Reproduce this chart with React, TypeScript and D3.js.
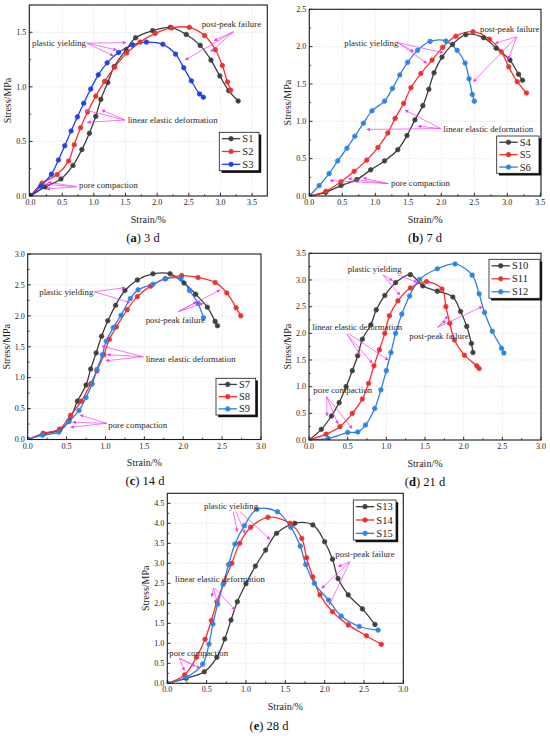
import React from "react";
import * as d3 from "d3";

type Pt = [number, number];

// ---------- (a) 3 d ----------
const S1: Pt[] = [[0,0],[0.23,0.083],[0.48,0.156],[0.67,0.28],[0.81,0.425],[0.93,0.575],[1.03,0.73],[1.11,0.885],[1.22,1.04],[1.32,1.185],[1.51,1.34],[1.66,1.45],[1.93,1.515],[2.21,1.545],[2.46,1.48],[2.68,1.38],[2.85,1.245],[2.99,1.10],[3.13,0.965],[3.28,0.87]];
const S2: Pt[] = [[0,0],[0.18,0.116],[0.42,0.196],[0.6,0.32],[0.69,0.47],[0.79,0.625],[0.9,0.77],[1.03,0.915],[1.17,1.05],[1.33,1.18],[1.52,1.31],[1.73,1.41],[1.97,1.49],[2.23,1.54],[2.51,1.545],[2.75,1.47],[2.92,1.34],[3.03,1.195],[3.11,1.045],[3.16,0.97]];
const S3: Pt[] = [[0,0],[0.16,0.09],[0.33,0.2],[0.44,0.33],[0.54,0.46],[0.64,0.595],[0.74,0.725],[0.84,0.85],[0.95,0.98],[1.07,1.11],[1.21,1.22],[1.39,1.315],[1.61,1.385],[1.83,1.41],[2.09,1.39],[2.29,1.30],[2.42,1.175],[2.54,1.055],[2.67,0.935],[2.73,0.905]];

// ---------- (b) 7 d ----------
const S4: Pt[] = [[0,0],[0.25,0.05],[0.48,0.14],[0.72,0.22],[0.93,0.35],[1.14,0.47],[1.34,0.62],[1.48,0.81],[1.6,1.02],[1.72,1.21],[1.81,1.43],[1.89,1.65],[2.01,1.86],[2.17,2.03],[2.37,2.16],[2.64,2.12],[2.83,1.98],[3.04,1.82],[3.17,1.63],[3.23,1.55]];
const S5: Pt[] = [[0,0],[0.25,0.063],[0.48,0.19],[0.68,0.33],[0.87,0.48],[1.04,0.65],[1.19,0.845],[1.3,1.04],[1.43,1.24],[1.54,1.45],[1.69,1.64],[1.86,1.82],[2.02,1.99],[2.22,2.14],[2.48,2.2],[2.73,2.1],[2.91,1.93],[3.02,1.73],[3.15,1.53],[3.29,1.38]];
const S6: Pt[] = [[0,0],[0.15,0.14],[0.3,0.3],[0.43,0.47],[0.57,0.64],[0.69,0.8],[0.82,0.975],[0.95,1.14],[1.14,1.27],[1.26,1.44],[1.37,1.62],[1.49,1.79],[1.64,1.95],[1.83,2.07],[2.07,2.075],[2.24,1.95],[2.36,1.78],[2.42,1.57],[2.47,1.36],[2.5,1.27]];

// ---------- (c) 14 d ----------
const S7: Pt[] = [[0,0],[0.2,0.09],[0.41,0.15],[0.53,0.3],[0.64,0.62],[0.75,0.88],[0.81,1.14],[0.88,1.4],[0.95,1.67],[1.03,1.92],[1.13,2.17],[1.25,2.41],[1.41,2.58],[1.61,2.68],[1.83,2.68],[2.01,2.53],[2.16,2.35],[2.31,2.14],[2.41,1.91],[2.44,1.84]];
const S8: Pt[] = [[0,0],[0.2,0.1],[0.41,0.17],[0.55,0.39],[0.69,0.62],[0.81,0.9],[0.89,1.11],[0.98,1.37],[1.05,1.62],[1.14,1.82],[1.28,2.1],[1.41,2.31],[1.58,2.48],[1.77,2.6],[1.98,2.65],[2.19,2.62],[2.41,2.54],[2.56,2.37],[2.68,2.13],[2.74,2.0]];
const S9: Pt[] = [[0,0],[0.19,0.07],[0.4,0.12],[0.53,0.29],[0.66,0.47],[0.75,0.68],[0.83,0.9],[0.89,1.13],[0.96,1.37],[1.01,1.59],[1.1,1.81],[1.2,2.01],[1.32,2.28],[1.42,2.42],[1.61,2.51],[1.77,2.6],[1.97,2.6],[2.08,2.41],[2.19,2.2],[2.26,1.97]];

// ---------- (d) 21 d ----------
const S10: Pt[] = [[0,0],[0.16,0.2],[0.29,0.45],[0.39,0.7],[0.48,1.0],[0.56,1.3],[0.63,1.58],[0.69,1.89],[0.8,2.16],[0.87,2.44],[0.98,2.71],[1.12,2.95],[1.31,3.1],[1.47,2.89],[1.66,2.79],[1.86,2.68],[1.96,2.41],[2.04,2.13],[2.1,1.81],[2.12,1.64]];
const S11: Pt[] = [[0,0],[0.22,0.11],[0.4,0.25],[0.56,0.5],[0.69,0.77],[0.77,1.06],[0.84,1.39],[0.91,1.69],[0.98,2.0],[1.04,2.33],[1.15,2.61],[1.31,2.85],[1.52,2.97],[1.72,2.83],[1.77,2.5],[1.82,2.19],[1.88,1.875],[2.01,1.59],[2.17,1.39],[2.2,1.34]];
const S12: Pt[] = [[0,0],[0.25,0.03],[0.5,0.14],[0.63,0.15],[0.73,0.28],[0.85,0.59],[0.93,0.94],[1.0,1.3],[1.06,1.64],[1.12,2.0],[1.2,2.36],[1.3,2.7],[1.43,3.01],[1.66,3.21],[1.89,3.3],[2.11,3.09],[2.2,2.74],[2.27,2.39],[2.37,2.04],[2.49,1.72],[2.52,1.63]];

// ---------- (e) 28 d ----------
const S13: Pt[] = [[0,0],[0.24,0.125],[0.47,0.29],[0.63,0.65],[0.73,1.11],[0.81,1.58],[0.89,2.04],[1.0,2.49],[1.12,2.93],[1.25,3.33],[1.39,3.75],[1.62,4.0],[1.85,3.96],[2.0,3.54],[2.1,3.1],[2.17,2.62],[2.3,2.21],[2.48,1.86],[2.64,1.47]];
const S14: Pt[] = [[0,0],[0.22,0.21],[0.37,0.65],[0.48,1.1],[0.56,1.57],[0.63,2.04],[0.72,2.52],[0.82,3.0],[0.92,3.5],[1.06,3.9],[1.28,4.15],[1.56,4.0],[1.71,3.62],[1.77,3.14],[1.85,2.66],[1.94,2.21],[2.1,1.79],[2.3,1.46],[2.53,1.19],[2.72,0.975]];
const S15: Pt[] = [[0,0],[0.24,0.15],[0.45,0.48],[0.53,0.98],[0.58,1.48],[0.64,1.98],[0.71,2.47],[0.78,2.97],[0.86,3.48],[0.98,3.94],[1.14,4.35],[1.4,4.29],[1.57,3.9],[1.69,3.43],[1.76,2.97],[1.87,2.5],[2.05,2.08],[2.21,1.68],[2.44,1.42],[2.68,1.33]];

// ---------- ticks ----------
const TICKS_X35 = [0, 0.5, 1.0, 1.5, 2.0, 2.5, 3.0, 3.5];
const TICKS_X30 = [0, 0.5, 1.0, 1.5, 2.0, 2.5, 3.0];
const TICKS_Y_A = [0, 0.5, 1.0, 1.5];
const TICKS_Y_B = [0, 0.5, 1.0, 1.5, 2.0, 2.5];
const TICKS_Y_C = [0, 0.5, 1.0, 1.5, 2.0, 2.5, 3.0];
const TICKS_Y_D = [0, 0.5, 1.0, 1.5, 2.0, 2.5, 3.0, 3.5];
const TICKS_Y_E = [0, 0.5, 1.0, 1.5, 2.0, 2.5, 3.0, 3.5, 4.0, 4.5];

// ---------- stage labels ----------
const STAGES = ["plastic yielding", "post-peak failure", "linear elastic deformation", "pore compaction"];

const BLACK = "#3d3d3d";
const RED = "#ff2e2e";
const BLUE_A = "#1f3dff";
const BLUE = "#2b7fea";
const MAGENTA = "#f23cf2";
const FONT = "'Liberation Serif', 'Times New Roman', serif";

interface Ann { text: string; at: Pt; arrows: [Pt, Pt][] }
interface Series { name: string; data: Pt[]; color: string }
interface PanelCfg {
  id: string;
  frame: { x0: number; y0: number; x1: number; y1: number };
  xDomain: [number, number];
  yDomain: [number, number];
  xTicks: number[];
  yTicks: number[];
  series: Series[];
  legend: { x: number; y: number; w: number; h: number };
  anns: Ann[];
  caption: { letter: string; rest: string; cx: number };
}

const panels: PanelCfg[] = [
  {
    id: "a",
    frame: { x0: 29.3, y0: 5, x1: 267.3, y1: 196 },
    xDomain: [-0.02, 3.74], yDomain: [0, 1.75],
    xTicks: TICKS_X35, yTicks: TICKS_Y_A,
    series: [{ name: "S1", data: S1, color: BLACK }, { name: "S2", data: S2, color: RED }, { name: "S3", data: S3, color: BLUE_A }],
    legend: { x: 219.3, y: 132.3, w: 39.7, h: 38.4 },
    anns: [
      { text: STAGES[0], at: [0.023, 1.374], arrows: [[[0.89, 1.40], [1.508, 1.405]], [[0.89, 1.40], [1.361, 1.338]], [[0.89, 1.40], [1.307, 1.285]]] },
      { text: STAGES[1], at: [2.704, 1.548], arrows: [[[3.207, 1.505], [2.9, 1.424]], [[3.207, 1.505], [2.846, 1.322]], [[3.207, 1.505], [2.444, 1.246]]] },
      { text: STAGES[2], at: [1.534, 0.669], arrows: [[[1.492, 0.696], [1.124, 0.788]], [[1.492, 0.696], [0.86, 0.788]], [[1.492, 0.696], [0.896, 0.675]]] },
      { text: STAGES[3], at: [0.765, 0.069], arrows: [[[0.729, 0.085], [0.275, 0.126]], [[0.729, 0.085], [0.228, 0.107]], [[0.729, 0.085], [0.255, 0.064]]] },
    ],
    caption: { letter: "a", rest: " 3 d", cx: 143 },
  },
  {
    id: "b",
    frame: { x0: 309.3, y0: 9.3, x1: 541, y1: 196 },
    xDomain: [0, 3.51], yDomain: [0, 2.5],
    xTicks: TICKS_X35, yTicks: TICKS_Y_B,
    series: [{ name: "S4", data: S4, color: BLACK }, { name: "S5", data: S5, color: RED }, { name: "S6", data: S6, color: BLUE }],
    legend: { x: 496.7, y: 136, w: 42.3, h: 37.3 },
    anns: [
      { text: STAGES[0], at: [0.53, 2.014], arrows: [[[1.348, 2.052], [2.03, 1.918]], [[1.348, 2.052], [1.582, 1.931]], [[1.348, 2.052], [1.779, 1.776]]] },
      { text: STAGES[1], at: [2.586, 2.196], arrows: [[[3.142, 2.133], [2.814, 2.044]], [[3.142, 2.133], [3.015, 1.829]], [[3.142, 2.133], [2.485, 1.529]]] },
      { text: STAGES[2], at: [2.03, 0.861], arrows: [[[1.991, 0.904], [1.45, 1.149]], [[1.991, 0.904], [1.647, 0.935]], [[1.991, 0.904], [0.87, 0.891]]] },
      { text: STAGES[3], at: [1.238, 0.13], arrows: [[[1.197, 0.166], [0.314, 0.207]], [[1.197, 0.166], [0.591, 0.233]], [[1.197, 0.166], [0.818, 0.241]]] },
    ],
    caption: { letter: "b", rest: " 7 d", cx: 425 },
  },
  {
    id: "c",
    frame: { x0: 27.7, y0: 254, x1: 261, y1: 439.5 },
    xDomain: [0, 3], yDomain: [0, 3],
    xTicks: TICKS_X30, yTicks: TICKS_Y_C,
    series: [{ name: "S7", data: S7, color: BLACK }, { name: "S8", data: S8, color: RED }, { name: "S9", data: S9, color: BLUE }],
    legend: { x: 216, y: 378.3, w: 39.7, h: 36.7 },
    anns: [
      { text: STAGES[0], at: [0.149, 2.337], arrows: [[[0.856, 2.39], [1.251, 2.455]], [[0.856, 2.39], [1.315, 2.213]]] },
      { text: STAGES[1], at: [1.517, 1.884], arrows: [[[1.937, 2.067], [2.173, 2.229]], [[1.937, 2.067], [2.258, 2.203]], [[1.937, 2.067], [2.473, 2.418]]] },
      { text: STAGES[2], at: [1.517, 1.253], arrows: [[[1.486, 1.339], [0.952, 1.512]], [[1.486, 1.339], [1.024, 1.372]], [[1.486, 1.339], [1.007, 1.274]]] },
      { text: STAGES[3], at: [1.036, 0.186], arrows: [[[1.016, 0.262], [0.672, 0.396]], [[1.016, 0.262], [0.578, 0.278]], [[1.016, 0.262], [0.553, 0.197]]] },
    ],
    caption: { letter: "c", rest: " 14 d", cx: 145 },
  },
  {
    id: "d",
    frame: { x0: 309, y0: 253.3, x1: 541, y1: 440 },
    xDomain: [0, 3], yDomain: [0, 3.5],
    xTicks: TICKS_X30, yTicks: TICKS_Y_D,
    series: [{ name: "S10", data: S10, color: BLACK }, { name: "S11", data: S11, color: RED }, { name: "S12", data: S12, color: BLUE }],
    legend: { x: 489, y: 259.3, w: 51, h: 39 },
    anns: [
      { text: STAGES[0], at: [0.5, 3.15], arrows: [[[0.957, 3.094], [1.082, 2.987]], [[0.957, 3.094], [1.177, 2.719]], [[1.151, 3.094], [1.397, 2.957]]] },
      { text: STAGES[2], at: [0.043, 2.053], arrows: [[[0.488, 1.988], [0.66, 1.594]], [[0.488, 1.988], [0.819, 1.438]], [[0.52, 1.988], [1.025, 1.5]]] },
      { text: STAGES[1], at: [1.297, 1.894], arrows: [[[1.664, 2.113], [1.794, 2.325]], [[1.664, 2.113], [1.768, 2.237]], [[1.664, 2.113], [2.241, 2.5]]] },
      { text: STAGES[3], at: [0.056, 0.881], arrows: [[[0.229, 0.812], [0.233, 0.45]], [[0.229, 0.812], [0.375, 0.3]], [[0.229, 0.812], [0.556, 0.216]]] },
    ],
    caption: { letter: "d", rest: " 21 d", cx: 425 },
  },
  {
    id: "e",
    frame: { x0: 167.3, y0: 493.3, x1: 403.3, y1: 683.3 },
    xDomain: [0, 3], yDomain: [0, 4.75],
    xTicks: TICKS_X30, yTicks: TICKS_Y_E,
    series: [{ name: "S13", data: S13, color: BLACK }, { name: "S14", data: S14, color: RED }, { name: "S15", data: S15, color: BLUE }],
    legend: { x: 353.3, y: 500, w: 42.7, h: 40 },
    anns: [
      { text: STAGES[0], at: [0.467, 4.37], arrows: [[[0.839, 4.29], [0.89, 3.79]], [[0.873, 4.29], [0.988, 3.75]], [[0.924, 4.29], [1.305, 3.6]]] },
      { text: STAGES[2], at: [0.098, 2.533], arrows: [[[0.587, 2.383], [0.564, 2.165]], [[0.587, 2.383], [0.636, 2.015]], [[0.6, 2.383], [0.861, 1.833]]] },
      { text: STAGES[1], at: [2.136, 3.158], arrows: [[[2.322, 3.04], [2.174, 2.915]], [[2.322, 3.04], [1.963, 2.375]], [[2.322, 3.04], [2.059, 1.958]]] },
      { text: STAGES[3], at: [0.025, 0.695], arrows: [[[0.153, 0.625], [0.216, 0.315]], [[0.153, 0.625], [0.352, 0.433]], [[0.153, 0.625], [0.416, 0.383]]] },
    ],
    caption: { letter: "e", rest: " 28 d", cx: 269 },
  },
];

const fmt = d3.format(".1f");

function Marker({ cx, cy, color }: { cx: number; cy: number; color: string }) {
  const c = d3.color(color)!;
  return (
    <g>
      <circle cx={cx} cy={cy} r={2.3} fill={c.brighter(0.6).formatHex()} stroke={c.darker(0.5).formatHex()} strokeWidth={0.6} />
      <circle cx={cx} cy={cy} r={1.0} fill={c.darker(0.4).formatHex()} />
    </g>
  );
}

function Panel({ cfg }: { cfg: PanelCfg }) {
  const f = cfg.frame;
  const x = d3.scaleLinear().domain(cfg.xDomain).range([f.x0, f.x1]);
  const y = d3.scaleLinear().domain(cfg.yDomain).range([f.y1, f.y0]);
  const line = d3.line<Pt>().x((d) => x(d[0])).y((d) => y(d[1])).curve(d3.curveCatmullRom.alpha(0.5));
  const minors = (ticks: number[], dom: [number, number]) => {
    const step = ticks[1] - ticks[0];
    return ticks.map((t) => t + step / 2).filter((t) => t > dom[0] + 1e-6 && t < dom[1] - 1e-6);
  };
  const xMinor = minors(cfg.xTicks, cfg.xDomain);
  const yMinor = minors(cfg.yTicks, cfg.yDomain);
  const cy = (f.y0 + f.y1) / 2;
  const cx = (f.x0 + f.x1) / 2;
  const lg = cfg.legend;
  const clipId = "clip-" + cfg.id;
  return (
    <g>
      <defs>
        <clipPath id={clipId}>
          <rect x={f.x0} y={f.y0} width={f.x1 - f.x0} height={f.y1 - f.y0} />
        </clipPath>
      </defs>
      {/* grid */}
      {cfg.xTicks.filter((t) => x(t) > f.x0 + 1 && x(t) < f.x1 - 1).map((t) => (
        <line key={"gx" + t} x1={x(t)} x2={x(t)} y1={f.y0} y2={f.y1} stroke="#cfcfcf" strokeWidth={0.6} strokeDasharray="1,1.4" />
      ))}
      {cfg.yTicks.filter((t) => y(t) > f.y0 + 1 && y(t) < f.y1 - 1).map((t) => (
        <line key={"gy" + t} x1={f.x0} x2={f.x1} y1={y(t)} y2={y(t)} stroke="#cfcfcf" strokeWidth={0.6} strokeDasharray="1,1.4" />
      ))}
      {/* series */}
      <g clipPath={`url(#${clipId})`}>
        {cfg.series.map((s) => (
          <path key={s.name} d={line(s.data) || ""} fill="none" stroke={s.color} strokeWidth={1.3} />
        ))}
        {cfg.series.map((s) => (
          <g key={s.name + "m"}>
            {s.data.map((d, i) => (
              <Marker key={i} cx={x(d[0])} cy={y(d[1])} color={s.color} />
            ))}
          </g>
        ))}
      </g>
      {/* annotations */}
      {cfg.anns.map((a, i) => (
        <g key={"an" + i}>
          {a.arrows.map(([p0, p1], j) => (
            <line key={j} x1={x(p0[0])} y1={y(p0[1])} x2={x(p1[0])} y2={y(p1[1])} stroke={MAGENTA} strokeWidth={0.7} markerEnd="url(#arrowhead)" />
          ))}
          <text x={x(a.at[0])} y={y(a.at[1])} fontSize={8.8} fill="#2a2a2a" fontFamily={FONT}>{a.text}</text>
        </g>
      ))}
      {/* frame */}
      <rect x={f.x0} y={f.y0} width={f.x1 - f.x0} height={f.y1 - f.y0} fill="none" stroke="#1a1a1a" strokeWidth={1.1} />
      {/* ticks */}
      {cfg.xTicks.map((t) => (
        <g key={"tx" + t}>
          <line x1={x(t)} x2={x(t)} y1={f.y1} y2={f.y1 - 3.2} stroke="#1a1a1a" strokeWidth={0.9} />
          <text x={x(t)} y={f.y1 + 9} fontSize={8} textAnchor="middle" fill="#222" fontFamily={FONT}>{fmt(t)}</text>
        </g>
      ))}
      {xMinor.map((t) => (
        <line key={"mx" + t} x1={x(t)} x2={x(t)} y1={f.y1} y2={f.y1 - 1.8} stroke="#1a1a1a" strokeWidth={0.8} />
      ))}
      {cfg.yTicks.map((t) => (
        <g key={"ty" + t}>
          <line x1={f.x0} x2={f.x0 + 3.2} y1={y(t)} y2={y(t)} stroke="#1a1a1a" strokeWidth={0.9} />
          <text x={f.x0 - 3} y={y(t) + 2.8} fontSize={8} textAnchor="end" fill="#222" fontFamily={FONT}>{fmt(t)}</text>
        </g>
      ))}
      {yMinor.map((t) => (
        <line key={"my" + t} x1={f.x0} x2={f.x0 + 1.8} y1={y(t)} y2={y(t)} stroke="#1a1a1a" strokeWidth={0.8} />
      ))}
      {/* axis titles */}
      <text x={cx} y={f.y1 + 26.5} fontSize={10} textAnchor="middle" fill="#222" fontFamily={FONT}>Strain/%</text>
      <text transform={`translate(${f.x0 - 18}, ${cy}) rotate(-90)`} fontSize={10} textAnchor="middle" fill="#222" fontFamily={FONT}>Stress/MPa</text>
      {/* legend */}
      <rect x={lg.x + 2.2} y={lg.y + 2.2} width={lg.w} height={lg.h} fill="#111" />
      <rect x={lg.x} y={lg.y} width={lg.w} height={lg.h} fill="#fff" stroke="#1a1a1a" strokeWidth={0.8} />
      {cfg.series.map((s, i) => {
        const ry = lg.y + lg.h / 6 + (i * lg.h) / 3;
        return (
          <g key={"lg" + s.name}>
            <line x1={lg.x + 2.5} x2={lg.x + 21} y1={ry} y2={ry} stroke={s.color} strokeWidth={1.3} />
            <Marker cx={lg.x + 11.75} cy={ry} color={s.color} />
            <text x={lg.x + 23} y={ry + 3.6} fontSize={10.5} fill="#222" fontFamily={FONT}>{s.name}</text>
          </g>
        );
      })}
      {/* caption */}
      <text x={cfg.caption.cx} y={f.y1 + (cfg.id === "e" ? 47 : 45.5)} fontSize={12.5} textAnchor="middle" fill="#111" fontFamily={FONT}>
        (<tspan fontWeight="bold">{cfg.caption.letter}</tspan>){cfg.caption.rest}
      </text>
    </g>
  );
}

export default function App() {
  return (
    <svg width={550} height={736} viewBox="0 0 550 736" style={{ position: "absolute", left: 0, top: 0, background: "#fff" }}>
      <defs>
        <marker id="arrowhead" viewBox="0 0 10 10" refX={9} refY={5} markerWidth={4.2} markerHeight={3.6} orient="auto" markerUnits="userSpaceOnUse">
          <path d="M0,0 L10,5 L0,10 z" fill={MAGENTA} />
        </marker>
      </defs>
      <rect x={0} y={0} width={550} height={736} fill="#fff" />
      {panels.map((p) => (
        <Panel key={p.id} cfg={p} />
      ))}
    </svg>
  );
}
